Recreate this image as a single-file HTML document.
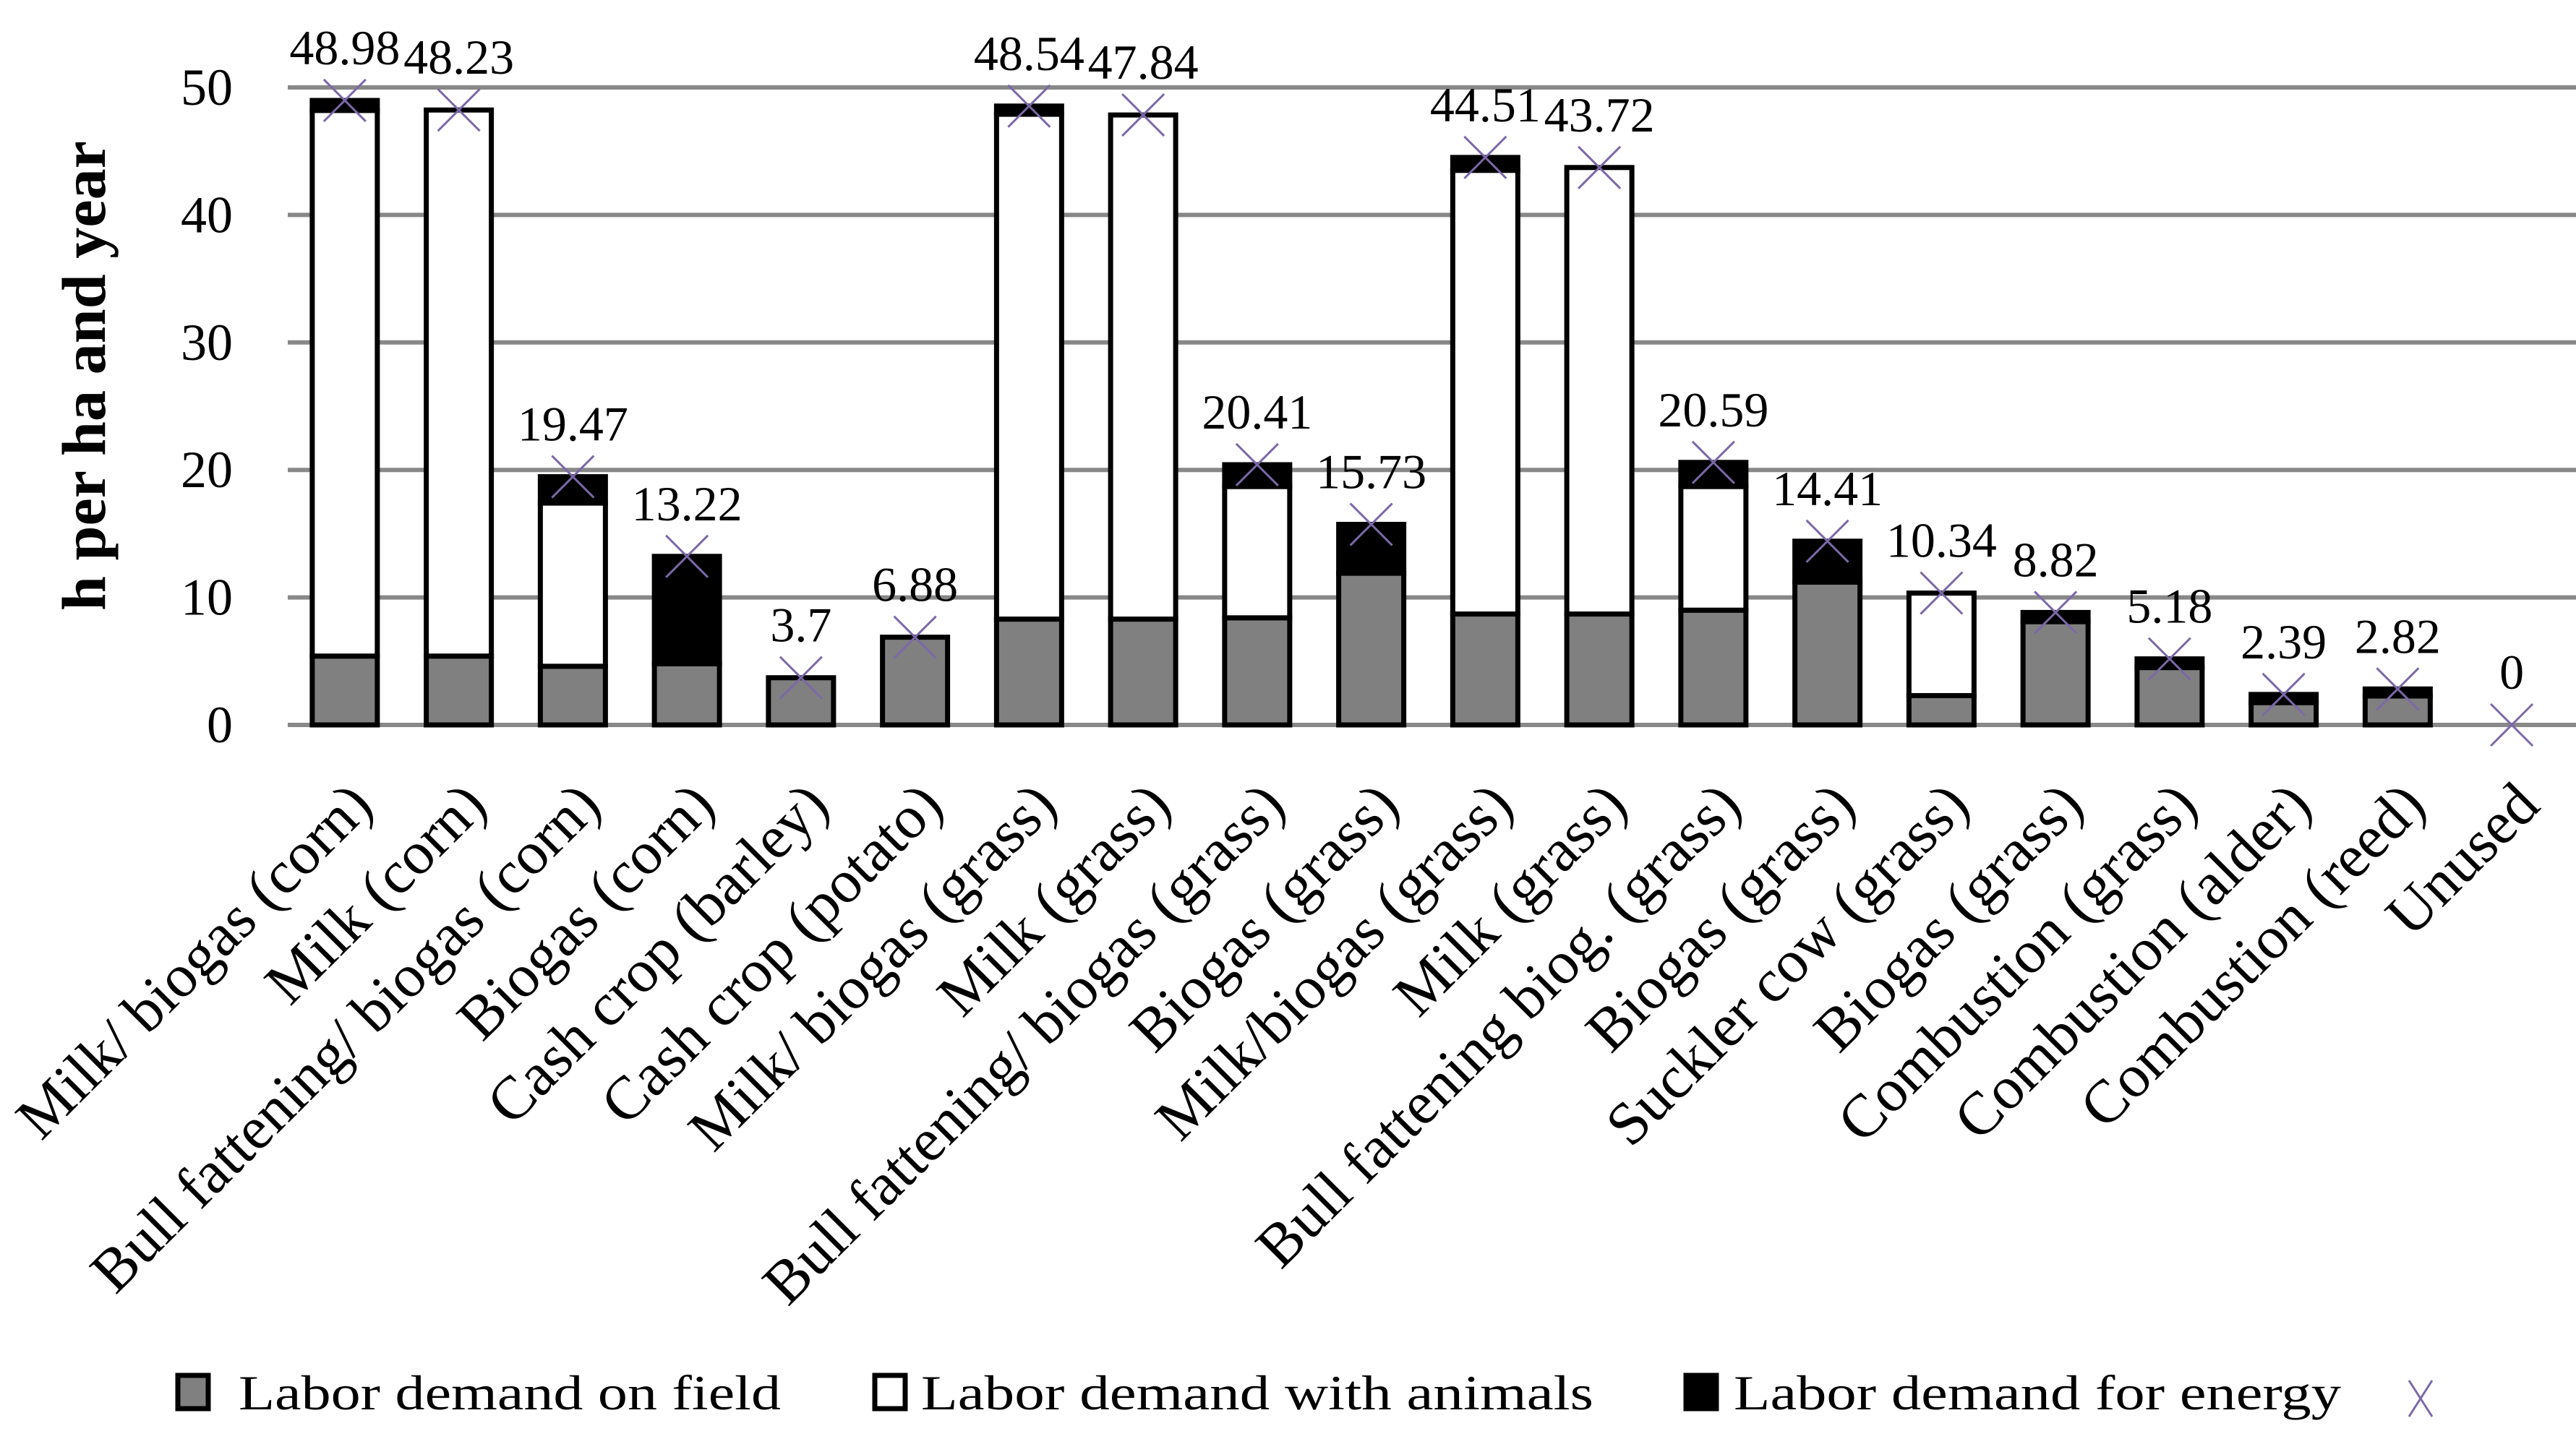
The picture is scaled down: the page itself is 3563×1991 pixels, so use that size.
<!DOCTYPE html>
<html><head><meta charset="utf-8"><style>
html,body{margin:0;padding:0;background:#fff;}
svg{display:block;}
text{font-family:"Liberation Serif",serif;fill:#000;}
</style></head><body>
<svg id="chart" width="3563" height="1991" viewBox="0 0 3563 1991" xmlns="http://www.w3.org/2000/svg">
<g id="grid"></g>
<g id="yticks"></g>
<text x="0" y="0" transform="translate(145,520) rotate(-90)" text-anchor="middle" font-size="86" font-weight="bold" textLength="650" lengthAdjust="spacingAndGlyphs">h per ha and year</text>
<g id="bars"></g>
<g id="marks"></g>
<g id="xlabels"></g>
<g id="legend">
  <rect x="246" y="1903" width="42" height="46" fill="#808080" stroke="#000" stroke-width="7"/>
  <text x="330" y="1950" font-size="68" textLength="750" lengthAdjust="spacingAndGlyphs">Labor demand on field</text>
  <rect x="1210" y="1903" width="42" height="46" fill="#fff" stroke="#000" stroke-width="7"/>
  <text x="1274" y="1950" font-size="68" textLength="930" lengthAdjust="spacingAndGlyphs">Labor demand with animals</text>
  <rect x="2332" y="1903" width="42" height="46" fill="#000" stroke="#000" stroke-width="7"/>
  <text x="2398" y="1950" font-size="68" textLength="840" lengthAdjust="spacingAndGlyphs">Labor demand for energy</text>
  <g stroke="#7b68a8" stroke-width="3">
    <line x1="3332" y1="1910" x2="3364" y2="1960"/><line x1="3364" y1="1910" x2="3332" y2="1960"/>
  </g>
</g>
</svg>
<script>
const categories = ["Milk/ biogas (corn)","Milk (corn)","Bull fattening/ biogas (corn)","Biogas (corn)","Cash crop (barley)","Cash crop (potato)","Milk/ biogas (grass)","Milk (grass)","Bull fattening/ biogas (grass)","Biogas (grass)","Milk/biogas (grass)","Milk (grass)","Bull fattening biog. (grass)","Biogas (grass)","Suckler cow (grass)","Biogas (grass)","Combustion (grass)","Combustion (alder)","Combustion (reed)","Unused"];
const fieldValues   = [5.4,5.4,4.6,4.8,3.7,6.88,8.3,8.3,8.4,11.9,8.7,8.7,9.0,11.2,2.3,8.1,4.5,1.75,2.27,0];
const animalValues  = [42.8,42.83,12.8,0,0,0,39.6,39.54,10.3,0,34.8,35.02,9.7,0,8.04,0,0,0,0,0];
const energyValues  = [0.78,0,2.07,8.42,0,0,0.64,0,1.71,3.83,1.01,0,1.89,3.21,0,0.72,0.68,0.64,0.55,0];
const totalValues   = [48.98,48.23,19.47,13.22,3.7,6.88,48.54,47.84,20.41,15.73,44.51,43.72,20.59,14.41,10.34,8.82,5.18,2.39,2.82,0];
const totalLabels   = ["48.98","48.23","19.47","13.22","3.7","6.88","48.54","47.84","20.41","15.73","44.51","43.72","20.59","14.41","10.34","8.82","5.18","2.39","2.82","0"];
const yTicks = [0,10,20,30,40,50];

const NS="http://www.w3.org/2000/svg";
const plotL=398, plotR=3563, y0=1003, y50=121, slot=157.75, barW=90;
function yScale(v){return y0-(v/50)*(y0-y50);}
function xCenter(i){return plotL+slot*(i+0.5);}
function mk(tag,attrs,parent){const e=document.createElementNS(NS,tag);for(const k in attrs)e.setAttribute(k,attrs[k]);parent.appendChild(e);return e;}

const grid=document.getElementById('grid'), yt=document.getElementById('yticks');
yTicks.forEach(t=>{
  const l=mk('line',{x1:plotL,x2:plotR,y1:yScale(t),y2:yScale(t),stroke:'#888',"stroke-width":6},grid);
  
  
  const tx=mk('text',{x:322,y:yScale(t)+24,"text-anchor":"end","font-size":72},yt);
  tx.textContent=String(t);
  
  
});

const bars=document.getElementById('bars'), marks=document.getElementById('marks'), xl=document.getElementById('xlabels');
categories.forEach((c,i)=>{
  const cx=xCenter(i), x=cx-barW/2;
  let base=0;
  const segs=[[fieldValues[i],'#808080','field'],[animalValues[i],'#fff','animals'],[energyValues[i],'#000','energy']];
  segs.forEach(s=>{
    if(s[0]>0){
      const r=mk('rect',{x:x,y:yScale(base+s[0]),width:barW,height:yScale(base)-yScale(base+s[0]),fill:s[1],stroke:'#000',"stroke-width":7},bars);
      
      
    }
    base+=s[0];
  });
  const ty=yScale(totalValues[i]);
  const g=mk('g',{stroke:'#7b68a8',"stroke-width":3},marks);
  
  
  mk('line',{x1:cx-29,y1:ty-29,x2:cx+29,y2:ty+29},g);
  mk('line',{x1:cx+29,y1:ty-29,x2:cx-29,y2:ty+29},g);
  const lb=mk('text',{x:cx,y:ty-50,"text-anchor":"middle","font-size":68},marks);
  lb.textContent=totalLabels[i];
  
  
  const xt=mk('text',{x:0,y:0,"text-anchor":"end","font-size":84,transform:'translate('+(cx+42)+',1118) rotate(-45)'},xl);
  xt.textContent=c;
  
  
});
</script>
</body></html>
